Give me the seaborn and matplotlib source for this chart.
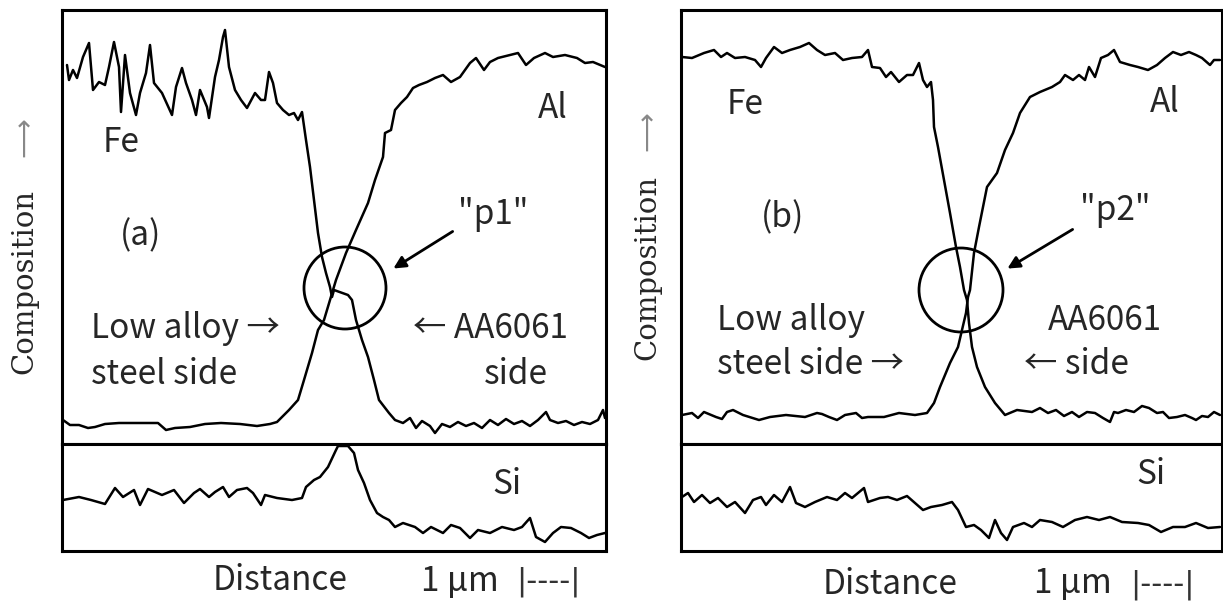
import seaborn as sns
import matplotlib.pyplot as plt
from matplotlib.patches import Circle

# Line-scan traces.
# x = distance along the scan (a.u., panel width ~544), y = signal (a.u.)

# ---- panel (a) ----
fe_a_x = [5, 7, 11, 15, 21, 27, 31, 37, 43, 47, 52, 57, 59, 63, 68, 74, 78, 84, 88, 92,
          100, 110, 114, 120, 124, 130, 134, 138, 145, 147, 153, 157, 161, 163, 167, 173,
          179, 185, 193, 199, 203, 207, 211, 215, 221, 227, 232, 236, 240, 244, 248, 252,
          256, 260, 264, 268, 270, 272, 286, 290, 294, 300, 306, 312, 317, 327, 333, 341,
          348, 354, 360, 368, 373, 380, 388, 396, 404, 412, 420, 428, 436, 444, 452, 460,
          468, 476, 484, 488, 496, 504, 512, 520, 528, 536, 541, 543]
fe_a_y = [379, 364, 374, 366, 387, 401, 354, 362, 359, 377, 402, 377, 332, 389, 351, 329,
          351, 371, 399, 361, 351, 329, 357, 376, 361, 344, 329, 354, 337, 326, 367, 384,
          407, 414, 377, 354, 344, 336, 351, 344, 344, 372, 361, 341, 334, 329, 331, 324,
          332, 304, 277, 244, 211, 187, 171, 157, 147, 154, 149, 144, 124, 104, 87, 64, 44,
          31, 24, 21, 26, 16, 23, 18, 11, 20, 17, 22, 18, 21, 16, 24, 19, 25, 20, 23, 18,
          24, 32, 24, 21, 23, 19, 22, 20, 24, 34, 26]

al_a_x = [1, 8, 17, 26, 33, 43, 57, 78, 96, 104, 113, 128, 143, 159, 178, 195, 208, 215,
          227, 236, 242, 250, 256, 262, 268, 274, 284, 294, 306, 313, 321, 323, 329, 333,
          339, 345, 351, 357, 365, 373, 381, 389, 398, 408, 414, 422, 428, 436, 448, 456,
          464, 472, 483, 491, 503, 515, 523, 531, 543]
al_a_y = [24, 19, 19, 16, 17, 20, 21, 21, 21, 14, 16, 17, 20, 21, 20, 18, 20, 22, 34, 44,
          64, 91, 114, 124, 144, 164, 191, 214, 241, 264, 287, 311, 314, 334, 341, 347,
          356, 359, 362, 366, 369, 362, 367, 381, 386, 374, 382, 386, 389, 391, 379, 386,
          391, 387, 389, 386, 381, 382, 377]

si_a_x = [1, 17, 29, 43, 53, 61, 72, 78, 86, 100, 112, 122, 132, 138, 147, 153, 161, 167,
          175, 185, 191, 199, 203, 215, 230, 240, 244, 252, 258, 266, 274, 276, 286, 292,
          296, 302, 308, 315, 321, 327, 333, 341, 353, 361, 369, 381, 389, 398, 408, 416,
          428, 440, 452, 460, 468, 474, 483, 491, 499, 509, 519, 527, 535, 543]
si_a_y = [51, 54, 51, 47, 63, 54, 61, 46, 62, 56, 61, 48, 58, 62, 54, 59, 64, 54, 61, 63,
          58, 46, 56, 53, 51, 53, 64, 71, 74, 84, 101, 105, 105, 98, 81, 68, 51, 38, 34,
          31, 24, 28, 24, 18, 24, 18, 26, 23, 13, 21, 18, 24, 21, 24, 33, 14, 9, 18, 24,
          23, 18, 13, 16, 18]

# ---- panel (b) ----
fe_b_x = [1, 11, 23, 33, 40, 46, 54, 64, 74, 80, 85, 93, 101, 109, 119, 128, 136, 144,
          154, 162, 171, 181, 187, 191, 199, 205, 210, 218, 226, 232, 238, 242, 246, 250,
          252, 253, 257, 263, 269, 275, 279, 283, 286, 288, 291, 296, 304, 314, 324, 336,
          351, 359, 367, 375, 383, 391, 398, 406, 414, 422, 429, 433, 437, 445, 453, 461,
          468, 476, 482, 488, 496, 504, 511, 515, 521, 527, 533, 539]
fe_b_y = [387, 386, 391, 394, 387, 391, 386, 387, 384, 377, 386, 397, 391, 394, 397, 401,
          394, 389, 391, 384, 386, 387, 394, 377, 376, 367, 372, 362, 369, 369, 381, 364,
          357, 362, 344, 317, 297, 264, 231, 197, 177, 154, 144, 121, 97, 77, 57, 41, 29,
          34, 32, 36, 31, 34, 28, 32, 27, 32, 31, 26, 22, 32, 31, 34, 32, 38, 36, 31, 32,
          26, 27, 29, 26, 24, 28, 27, 32, 29]

al_b_x = [1, 11, 17, 23, 35, 41, 46, 52, 62, 78, 89, 105, 124, 136, 141, 148, 156, 164,
          175, 181, 187, 203, 218, 234, 246, 253, 259, 269, 277, 281, 285, 287, 289, 293,
          298, 306, 316, 324, 332, 339, 349, 359, 371, 379, 384, 392, 398, 404, 408, 414,
          420, 427, 433, 439, 449, 457, 467, 476, 484, 492, 500, 508, 515, 521, 529, 533,
          539]
al_b_y = [29, 31, 26, 32, 27, 25, 32, 34, 29, 24, 27, 29, 27, 31, 30, 27, 24, 29, 31, 26,
          27, 27, 31, 29, 31, 41, 57, 81, 97, 114, 131, 147, 154, 191, 217, 257, 271, 294,
          311, 331, 347, 352, 357, 362, 369, 364, 369, 364, 377, 367, 386, 389, 394, 382,
          379, 377, 374, 379, 386, 392, 389, 392, 389, 386, 379, 384, 384]

si_b_x = [1, 7, 13, 21, 29, 37, 46, 54, 64, 72, 80, 85, 93, 101, 109, 115, 124, 134, 146,
          156, 164, 171, 183, 187, 199, 207, 216, 226, 234, 242, 250, 261, 271, 277, 285,
          293, 300, 308, 314, 320, 326, 332, 343, 351, 359, 371, 382, 394, 406, 418, 429,
          441, 457, 468, 480, 492, 504, 515, 527, 539]
si_b_y = [54, 58, 49, 56, 48, 53, 44, 49, 38, 51, 54, 46, 56, 49, 64, 48, 44, 49, 54, 51,
          58, 53, 63, 49, 53, 54, 51, 55, 48, 41, 44, 46, 49, 41, 24, 26, 21, 13, 31, 18,
          11, 24, 28, 24, 31, 29, 24, 31, 34, 31, 34, 29, 28, 26, 19, 24, 24, 28, 23, 24]

sns.set_style("white")
plt.rcParams["font.family"] = ["Noto Sans CJK JP", "DejaVu Sans"]

W, H = 1223, 607
fig = plt.figure(figsize=(W / 100, H / 100), dpi=100)


def box(left, right, top, bottom):
    return [left / W, 1 - bottom / H, (right - left) / W, (bottom - top) / H]


def style(ax, xmax, ymax):
    ax.set_xlim(0, xmax)
    ax.set_ylim(0, ymax)
    ax.set_xticks([])
    ax.set_yticks([])
    ax.set_xlabel("")
    ax.set_ylabel("")
    for s in ax.spines.values():
        s.set_linewidth(2.2)
        s.set_color("black")


def trace(ax, x, y):
    sns.lineplot(x=x, y=y, ax=ax, color="black", linewidth=1.8,
                 sort=False, estimator=None)


fs = 24
panels = [
    dict(l=62, r=606, fe=(fe_a_x, fe_a_y), al=(al_a_x, al_a_y), si=(si_a_x, si_a_y)),
    dict(l=681, r=1222, fe=(fe_b_x, fe_b_y), al=(al_b_x, al_b_y), si=(si_b_x, si_b_y)),
]

axes = []
for p in panels:
    w = p["r"] - p["l"]
    ax_top = fig.add_axes(box(p["l"], p["r"], 10, 444))
    ax_si = fig.add_axes(box(p["l"], p["r"], 444, 551))
    trace(ax_top, *p["fe"])
    trace(ax_top, *p["al"])
    trace(ax_si, *p["si"])
    style(ax_top, w, 434)
    style(ax_si, w, 107)
    axes.append((ax_top, ax_si))

arrow_kw = dict(arrowstyle="-|>", color="black", lw=2, mutation_scale=18)

# ---- annotations panel (a) ----
ax, ax2 = axes[0]
ax.text(59, 301, "Fe", fontsize=fs, ha="center", va="center")
ax.text(491, 336, "Al", fontsize=fs, ha="center", va="center")
ax.text(79, 208, "(a)", fontsize=fs, ha="center", va="center")
ax.text(431, 229, '"p1"', fontsize=fs, ha="center", va="center")
ax.annotate("", xy=(329, 174), xytext=(393, 214), arrowprops=arrow_kw)
ax.add_patch(Circle((283, 156), 41, fill=False, color="black", lw=2))
ax.text(29, 116, "Low alloy →", fontsize=fs, ha="left", va="center")
ax.text(29, 70, "steel side", fontsize=fs, ha="left", va="center")
ax.text(351, 116, "← AA6061", fontsize=fs, ha="left", va="center")
ax.text(454, 70, "side", fontsize=fs, ha="center", va="center")
ax2.text(445, 66, "Si", fontsize=fs, ha="center", va="center")
ax2.text(218, -30, "Distance", fontsize=fs, ha="center", va="center")
ax2.text(359, -30, "1 μm", fontsize=fs, ha="left", va="center")
ax2.text(454, -31, "|----|", fontsize=22, ha="left", va="center",
         family="DejaVu Sans", color="#333333")

# ---- annotations panel (b) ----
ax, ax2 = axes[1]
ax.text(64, 339, "Fe", fontsize=fs, ha="center", va="center")
ax.text(484, 341, "Al", fontsize=fs, ha="center", va="center")
ax.text(102, 226, "(b)", fontsize=fs, ha="center", va="center")
ax.text(434, 234, '"p2"', fontsize=fs, ha="center", va="center")
ax.annotate("", xy=(324, 174), xytext=(394, 216), arrowprops=arrow_kw)
ax.add_patch(Circle((280, 154), 42, fill=False, color="black", lw=2))
ax.text(36, 124, "Low alloy", fontsize=fs, ha="left", va="center")
ax.text(36, 79, "steel side →", fontsize=fs, ha="left", va="center")
ax.text(424, 124, "AA6061", fontsize=fs, ha="center", va="center")
ax.text(343, 79, "← side", fontsize=fs, ha="left", va="center")
ax2.text(470, 76, "Si", fontsize=fs, ha="center", va="center")
ax2.text(209, -33, "Distance", fontsize=fs, ha="center", va="center")
ax2.text(353, -33, "1 μm", fontsize=fs, ha="left", va="center")
ax2.text(449, -34, "|----|", fontsize=22, ha="left", va="center",
         family="DejaVu Sans", color="#333333")

# y labels
for xc, yc, ya in [(24, 281, 137), (647, 268, 131)]:
    fig.text(xc / W, 1 - yc / H, "Composition", rotation=90, fontsize=21,
             family="DejaVu Serif", ha="center", va="center")
    fig.text(xc / W, 1 - ya / H, "⟶", rotation=90, fontsize=20,
             family="DejaVu Sans", ha="center", va="center", color="#888888")

plt.savefig("out.png", dpi=100)
